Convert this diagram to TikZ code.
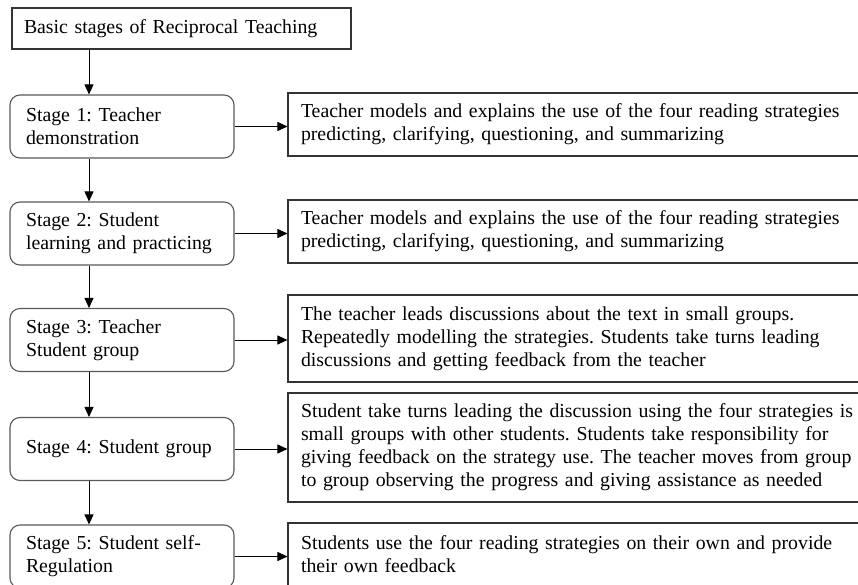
\documentclass[tikz,border=0pt]{standalone}
\usepackage{fontspec}
\setmainfont{Liberation Serif}
\usetikzlibrary{arrows.meta}
\frenchspacing
\begin{document}
\begin{tikzpicture}[x=1pt,y=-1pt,
  txt/.style={font=\fontsize{19.8}{23}\selectfont\frenchspacing, text=black},
  topbox/.style={txt, draw=black!80, line width=1.1pt, minimum width=339pt, minimum height=41pt,
     text width=315pt, inner xsep=12pt, inner ysep=1pt, align=left},
  stagebox/.style={txt, draw=black!65, line width=1.1pt, rounded corners=10pt, minimum width=224pt,
     minimum height=63pt, text width=192pt, inner xsep=16pt, inner ysep=1pt, align=left},
  descbox/.style={txt, draw=black!80, line width=1.1pt, minimum width=600pt,
     text width=574pt, inner xsep=13pt, inner ysep=1pt, align=left},
  arr/.style={draw=black, line width=0.9pt, -{Triangle[length=10pt,width=9pt]}}]
\useasboundingbox (0,0) rectangle (858,585);
\clip (0,0) rectangle (858,585);
\fill[white] (0,0) rectangle (858,585);

\node[topbox] (top) at (181.5,28.5) {Basic stages of Reciprocal Teaching};

\node[stagebox] (s1) at (122,126.5) {Stage 1:\ Teacher\\demonstration};
\node[stagebox] (s2) at (122,233.5) {Stage 2:\ Student\\learning and practicing};
\node[stagebox] (s3) at (122,340) {Stage 3:\ Teacher\\Student group};
\node[stagebox] (s4) at (122,449) {Stage 4:\ Student group};
\node[stagebox] (s5) at (122,556.5) {Stage 5:\ Student self-\\Regulation};

\node[descbox, minimum height=63pt] (b1) at (588,124.5) {Teacher models and explains the use of the four reading strategies\\predicting, clarifying, questioning, and summarizing};
\node[descbox, minimum height=63pt] (b2) at (588,231.5) {Teacher models and explains the use of the four reading strategies\\predicting, clarifying, questioning, and summarizing};
\node[descbox, minimum height=87pt] (b3) at (588,338.5) {The teacher leads discussions about the text in small groups.\\Repeatedly modelling the strategies. Students take turns leading\\discussions and getting feedback from the teacher};
\node[descbox, minimum height=109pt] (b4) at (588,447.5) {Student take turns leading the discussion using the four strategies is\\small groups with other students. Students take responsibility for\\giving feedback on the strategy use. The teacher moves from group\\to group observing the progress and giving assistance as needed};
\node[descbox, minimum height=63pt] (b5) at (588,554.5) {Students use the four reading strategies on their own and provide\\their own feedback};

\coordinate (ax) at (89,0);
\draw[arr] (top.south -| ax) -- (s1.north -| ax);
\draw[arr] (s1.south -| ax) -- (s2.north -| ax);
\draw[arr] (s2.south -| ax) -- (s3.north -| ax);
\draw[arr] (s3.south -| ax) -- (s4.north -| ax);
\draw[arr] (s4.south -| ax) -- (s5.north -| ax);

\draw[arr] (s1.east) -- (s1.east -| b1.west);
\draw[arr] (s2.east) -- (s2.east -| b2.west);
\draw[arr] (s3.east) -- (s3.east -| b3.west);
\draw[arr] (s4.east) -- (s4.east -| b4.west);
\draw[arr] (s5.east) -- (s5.east -| b5.west);
\end{tikzpicture}
\end{document}
